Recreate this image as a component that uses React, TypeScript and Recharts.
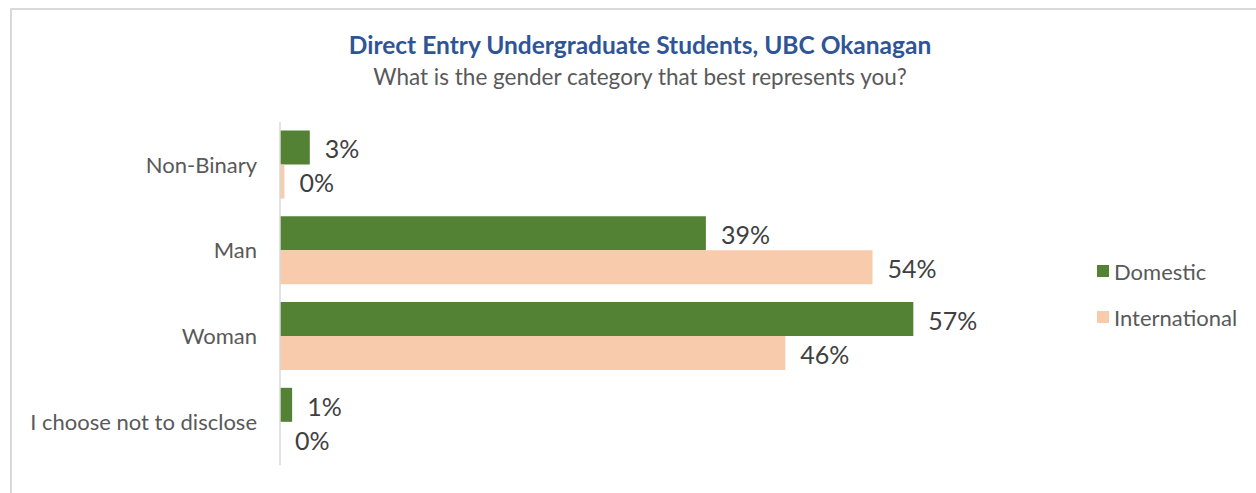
import { BarChart, Bar, XAxis, YAxis, LabelList } from 'recharts'

const categories = ['Non-Binary', 'Man', 'Woman', 'I choose not to disclose']
const domestic = [2.7, 38.6, 57.4, 1.1]
const international = [0.4, 53.7, 45.8, 0]
const seriesNames = ['Domestic', 'International']
const seriesColors = ['#548235', '#F8CBAD']

const FONT = 'Lato, "Open Sans", sans-serif'

const data = categories.map((name, i) => ({
  name,
  domestic: domestic[i],
  international: international[i]
}))

const pct = (v: any) => `${Math.round(Number(v))}%`
// keep zero bars in the layout so their "0%" label still shows
const keepZero = (v: any) => (Number(v) === 0 ? 0.01 : 0)

export default function App() {
  return (
    <div style={{ position: 'fixed', left: 0, top: 0, width: 1256, height: 493, overflow: 'hidden', background: '#fff' }}>
      <div
        style={{
          position: 'absolute', left: 10, top: 8, width: 1300, height: 600,
          border: '2px solid #d9d9d9', boxSizing: 'border-box'
        }}
      />
      <div style={{ position: 'absolute', left: 0, top: 30, width: 1280, textAlign: 'center', fontFamily: FONT, fontWeight: 700, fontSize: 24.5, color: '#2F5597' }}>
        Direct Entry Undergraduate Students, UBC Okanagan
      </div>
      <div style={{ position: 'absolute', left: 0, top: 63, width: 1280, textAlign: 'center', fontFamily: FONT, fontSize: 22.5, color: '#595959' }}>
        What is the gender category that best represents you?
      </div>
      <div style={{ position: 'absolute', left: 0, top: 0 }}>
        <BarChart
          width={1256}
          height={493}
          data={data}
          layout="vertical"
          margin={{ top: 122, right: 314, left: 0, bottom: 28 }}
          barCategoryGap="10%"
          barGap={0}
        >
          <XAxis type="number" domain={[0, 60]} hide />
          <YAxis
            type="category"
            dataKey="name"
            width={280}
            tickLine={false}
            tickSize={0}
            tickMargin={23}
            axisLine={{ stroke: '#d9d9d9', strokeWidth: 1.5 }}
            tick={{ fill: '#595959', fontSize: 22, fontFamily: FONT }}
          />
          <Bar dataKey="domestic" name="Domestic" fill="#548235" isAnimationActive={false} minPointSize={keepZero}>
            <LabelList
              dataKey="domestic"
              position="right"
              offset={15}
              dy={2}
              formatter={pct}
              style={{ fill: '#404040', fontSize: 25, fontFamily: FONT }}
            />
          </Bar>
          <Bar dataKey="international" name="International" fill="#F8CBAD" isAnimationActive={false} minPointSize={keepZero}>
            <LabelList
              dataKey="international"
              position="right"
              offset={15}
              dy={2}
              formatter={pct}
              style={{ fill: '#404040', fontSize: 25, fontFamily: FONT }}
            />
          </Bar>
        </BarChart>
      </div>
      <div style={{ position: 'absolute', left: 1097, top: 248, fontFamily: FONT, fontSize: 22, color: '#595959' }}>
        {seriesNames.map((n, i) => (
          <div key={n} style={{ display: 'flex', alignItems: 'center', height: 46 }}>
            <span style={{ width: 12, height: 12, background: seriesColors[i], marginRight: 5, display: 'inline-block' }} />
            {n}
          </div>
        ))}
      </div>
    </div>
  )
}
